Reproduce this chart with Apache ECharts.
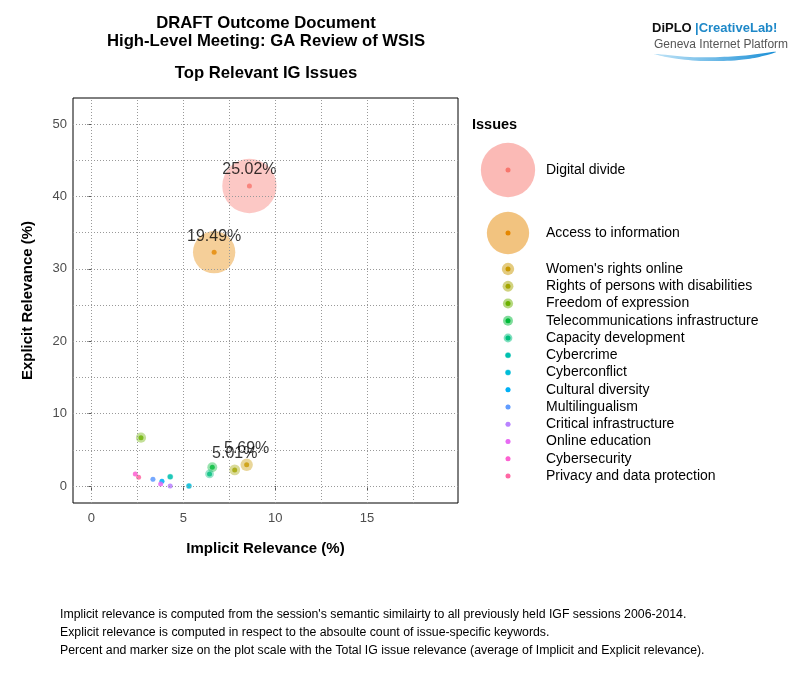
<!DOCTYPE html>
<html><head><meta charset="utf-8">
<script src="https://cdn.jsdelivr.net/npm/echarts@6/dist/echarts.min.js"></script>
<style>html,body{margin:0;padding:0;background:#fff}#c{width:800px;height:700px}</style>
</head><body><div id="c"></div>
<script>
const issues = ['Digital divide','Access to information',"Women's rights online",'Rights of persons with disabilities','Freedom of expression','Telecommunications infrastructure','Capacity development','Cybercrime','Cyberconflict','Cultural diversity','Multilingualism','Critical infrastructure','Online education','Cybersecurity','Privacy and data protection'];
const implicitRel = [8.60, 6.68, 8.45, 7.80, 2.70, 6.58, 6.43, 4.29, 5.31, 3.84, 3.35, 4.29, 3.77, 2.39, 2.57];
const explicitRel = [41.44, 32.30, 2.93, 2.22, 6.67, 2.58, 1.66, 1.28, 0.00, 0.65, 0.92, 0.00, 0.28, 1.66, 1.20];
const colors = ['#F8766D','#E58700','#C99800','#A3A500','#6BB100','#00BA38','#00BF7D','#00C0AF','#00BCD8','#00B0F6','#619CFF','#B983FF','#E76BF3','#FD61D1','#FF67A4'];
const xTicks = [0,5,10,15];
const yTicks = [0,10,20,30,40,50];
const xMinor = [2.5,7.5,12.5,17.5];
const yMinor = [5,15,25,35,45];
const labelledCount = 4;
const footnotes = [
  "Implicit relevance is computed from the session's semantic similairty to all previously held IGF sessions 2006-2014.",
  "Explicit relevance is computed in respect to the absoulte count of issue-specific keywords.",
  "Percent and marker size on the plot scale with the Total IG issue relevance (average of Implicit and Explicit relevance)."
];

const FONT = '"Liberation Sans", Arial, sans-serif';
const total = i => (implicitRel[i] + explicitRel[i]) / 2;
const bubbleD = t => 2.17 * t;
const DOT_D = 5;
const withAlpha = (hex, a) => {
  const n = parseInt(hex.slice(1), 16);
  return `rgba(${(n >> 16) & 255},${(n >> 8) & 255},${n & 255},${a})`;
};

function iconFor(i, w, h) {
  const d = bubbleD(total(i));
  const svg = `<svg xmlns="http://www.w3.org/2000/svg" width="${w}" height="${h}" viewBox="0 0 ${w} ${h}">` +
    `<circle cx="${w/2}" cy="${h/2}" r="${d/2}" fill="${colors[i]}" fill-opacity="0.5"/>` +
    `<circle cx="${w/2}" cy="${h/2}" r="${DOT_D/2}" fill="${colors[i]}"/></svg>`;
  return 'image://data:image/svg+xml;charset=utf-8,' + encodeURIComponent(svg);
}

const gridLine = {type: [1, 2], color: '#999', width: 1};
const series = issues.map((name, i) => {
  const d = bubbleD(total(i));
  return {
    name, type: 'scatter', z: 2,
    symbolSize: d,
    itemStyle: {color: withAlpha(colors[i], 0.5)},
    emphasis: {disabled: true},
    label: {
      show: i < labelledCount, position: [d / 2, d / 2 - 16], align: 'center', verticalAlign: 'middle',
      formatter: () => total(i).toFixed(2) + '%',
      color: '#000', fontSize: 16, fontFamily: FONT, textBorderWidth: 0
    },
    labelLayout: {hideOverlap: false},
    data: [[implicitRel[i], explicitRel[i]]]
  };
});
series.push({
  name: 'dots', type: 'scatter', z: 3, symbolSize: DOT_D,
  emphasis: {disabled: true}, silent: true,
  data: issues.map((n, i) => ({value: [implicitRel[i], explicitRel[i]], itemStyle: {color: colors[i]}}))
});
series.push({
  name: 'grid', type: 'scatter', z: 1, silent: true, data: [],
  markLine: {
    silent: true, symbol: 'none', label: {show: false}, animation: false,
    lineStyle: gridLine,
    data: [...xTicks, ...xMinor].map(v => ({xAxis: v})).concat([...yTicks, ...yMinor].map(v => ({yAxis: v})))
  }
});

const legendText = {fontSize: 14, color: '#000', fontFamily: FONT};
const legends = [
  {data: [0], h: 58, top: 141},
  {data: [1], h: 48, top: 209},
  {data: issues.map((n, i) => i).slice(2), h: 14, top: 262}
].map(g => ({
  orient: 'vertical', left: 475, top: g.top, itemWidth: 66, itemHeight: g.h, itemGap: 3.25,
  padding: 0, textStyle: legendText, selectedMode: false,
  data: g.data.map(i => ({name: issues[i], icon: iconFor(i, 66, g.h), itemStyle: {opacity: 1}}))
}));

const texts = [
  {x: 266, y: 23, t: 'DRAFT Outcome Document', s: 16.7},
  {x: 266, y: 41, t: 'High-Level Meeting: GA Review of WSIS', s: 16.7},
  {x: 266, y: 73, t: 'Top Relevant IG Issues', s: 16.7},
  {x: 472, y: 125, t: 'Issues', s: 14.5, a: 'left'}
].map(o => ({type: 'text', x: o.x, y: o.y,
  style: {text: o.t, font: `bold ${o.s}px ${FONT}`, fill: '#000', align: o.a || 'center', verticalAlign: 'middle'}}));
footnotes.forEach((t, k) => texts.push({type: 'text', x: 60, y: 615 + 18 * k,
  style: {text: t, font: `12.3px ${FONT}`, fill: '#000', align: 'left', verticalAlign: 'middle'}}));
// logo
texts.push(
  {type: 'text', x: 652, y: 28, style: {text: 'DiPLO', font: `900 13px ${FONT}`, fill: '#111', align: 'left', verticalAlign: 'middle'}},
  {type: 'text', x: 695, y: 28, style: {text: '|CreativeLab!', font: `bold 13px ${FONT}`, fill: '#1e88c8', align: 'left', verticalAlign: 'middle'}},
  {type: 'text', x: 654, y: 45, style: {text: 'Geneva Internet Platform', font: `12px ${FONT}`, fill: '#555', align: 'left', verticalAlign: 'middle'}},
  {type: 'polygon', shape: {points: [[655,54],[690,57],[720,57],[750,55],[776,52],[748,59],[705,61],[672,58]], smooth: 0.4},
   style: {fill: new echarts.graphic.LinearGradient(0, 0, 1, 0, [{offset: 0, color: '#bfe3f7'}, {offset: 1, color: '#1a8fd6'}])}}
);

const axisLabelStyle = {fontSize: 13, color: '#4d4d4d', fontFamily: FONT};
const option = {
  animation: false,
  backgroundColor: '#fff',
  grid: {left: 73, top: 98, right: 342, bottom: 197, show: true, borderColor: '#000', borderWidth: 1, backgroundColor: '#fff'},
  xAxis: {
    type: 'value', min: -1, max: 19.95,
    name: 'Implicit Relevance (%)', nameLocation: 'middle', nameGap: 38,
    nameTextStyle: {fontSize: 15, fontWeight: 'bold', color: '#000', fontFamily: FONT},
    axisLine: {show: false}, splitLine: {show: false},
    axisTick: {show: true, length: 4, lineStyle: {color: '#555'}, customValues: xTicks},
    axisLabel: {customValues: xTicks, margin: 9, ...axisLabelStyle,
      formatter: v => xTicks.includes(v) ? String(v) : ''}
  },
  yAxis: {
    type: 'value', min: -2.35, max: 53.6,
    name: 'Explicit Relevance (%)', nameLocation: 'middle', nameGap: 38,
    nameTextStyle: {fontSize: 15, fontWeight: 'bold', color: '#000', fontFamily: FONT},
    axisLine: {show: false}, splitLine: {show: false},
    axisTick: {show: true, length: 4, lineStyle: {color: '#555'}, customValues: yTicks},
    axisLabel: {customValues: yTicks, margin: 6, ...axisLabelStyle,
      formatter: v => yTicks.includes(v) ? String(v) : ''}
  },
  legend: legends,
  series,
  graphic: texts
};
const chart = echarts.init(document.getElementById('c'), null, {renderer: 'canvas'});
chart.setOption(option);
</script></body></html>
